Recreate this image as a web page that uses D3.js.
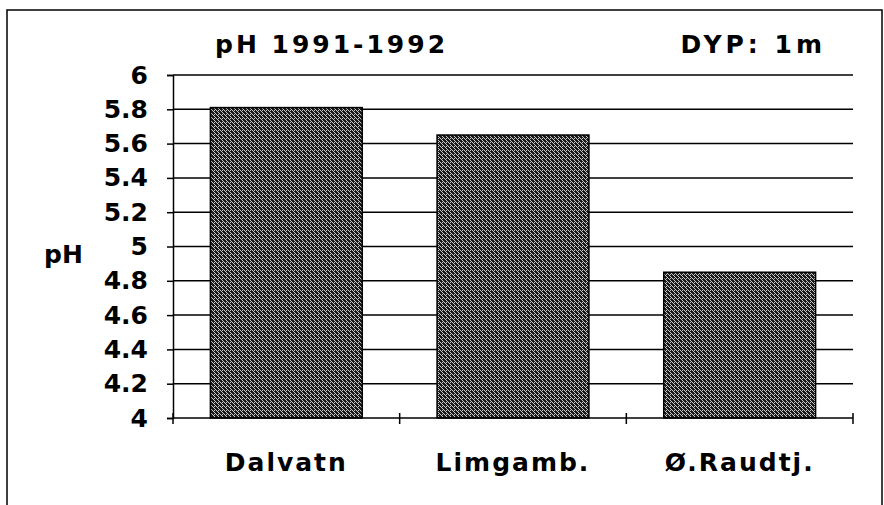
<!DOCTYPE html>
<html>
<head>
<meta charset="utf-8">
<script src="https://cdn.jsdelivr.net/npm/d3@7"></script>
<style>
  body { margin: 0; background: #fff; }
  svg text { font-family: "DejaVu Sans", sans-serif; font-weight: bold; fill: #000; }
</style>
</head>
<body>
<div id="chart"></div>
<script>
const width = 884;
const height = 505;

// data
const categories = ['Dalvatn', 'Limgamb.', 'Ø.Raudtj.'];
const phValues = [5.81, 5.65, 4.85];
const yTicks = [4, 4.2, 4.4, 4.6, 4.8, 5, 5.2, 5.4, 5.6, 5.8, 6];

const margin = { left: 173, right: 31, top: 75, bottom: 87 };

const svg = d3.select('#chart')
  .append('svg')
  .attr('width', width)
  .attr('height', height);

// hatch pattern for the bars
const defs = svg.append('defs');
const pat = defs.append('pattern')
  .attr('id', 'hatch')
  .attr('width', 4)
  .attr('height', 4)
  .attr('patternUnits', 'userSpaceOnUse');
pat.append('rect').attr('width', 4).attr('height', 4).attr('fill', '#1a1a1a');
pat.append('path')
  .attr('d', 'M0,3 L1,2 M2,1 L3,0 M1,4 L4,1')
  .attr('stroke', '#ddd')
  .attr('stroke-width', 0.9);

// outer frame
svg.append('path')
  .attr('d', 'M7,505 L7,10 L882,10 L882,505')
  .attr('fill', 'none')
  .attr('stroke', '#000')
  .attr('stroke-width', 1.5);

const x = d3.scaleBand()
  .domain(categories)
  .range([margin.left, width - margin.right])
  .paddingInner(0.33)
  .paddingOuter(0.165);

const y = d3.scaleLinear()
  .domain([4, 6])
  .range([height - margin.bottom, margin.top]);

// gridlines
svg.append('g')
  .selectAll('line')
  .data(yTicks.slice(1))
  .join('line')
  .attr('x1', margin.left)
  .attr('x2', width - margin.right)
  .attr('y1', d => y(d))
  .attr('y2', d => y(d))
  .attr('stroke', '#000')
  .attr('stroke-width', 1.5);

// bars
svg.append('g')
  .selectAll('rect')
  .data(phValues)
  .join('rect')
  .attr('x', (d, i) => x(categories[i]))
  .attr('width', x.bandwidth())
  .attr('y', d => y(d))
  .attr('height', d => y(4) - y(d))
  .attr('fill', 'url(#hatch)')
  .attr('stroke', '#000')
  .attr('stroke-width', 1.5);

// y axis
const yAxis = svg.append('g')
  .attr('transform', `translate(${margin.left},0)`)
  .call(d3.axisLeft(y).tickValues(yTicks).tickSize(6).tickPadding(19)
    .tickFormat(d3.format('~g')));
yAxis.select('.domain').attr('stroke-width', 1.5);
yAxis.selectAll('.tick line').attr('stroke-width', 1.5);
yAxis.selectAll('.tick text')
  .style('font-size', '25px')
  .style('font-family', '"DejaVu Sans", sans-serif')
  .style('font-weight', 'bold');

// x axis (ticks at category boundaries)
const step = x.step();
const boundaries = d3.range(categories.length + 1).map(i => margin.left + i * step);
svg.append('line')
  .attr('x1', margin.left).attr('x2', width - margin.right)
  .attr('y1', y(4)).attr('y2', y(4))
  .attr('stroke', '#000').attr('stroke-width', 1.5);
svg.append('g')
  .selectAll('line')
  .data(boundaries)
  .join('line')
  .attr('x1', d => d).attr('x2', d => d)
  .attr('y1', y(4) - 5).attr('y2', y(4) + 6)
  .attr('stroke', '#000').attr('stroke-width', 1.5);

svg.append('g')
  .selectAll('text')
  .data(categories)
  .join('text')
  .attr('x', d => x(d) + x.bandwidth() / 2)
  .attr('y', 471)
  .attr('text-anchor', 'middle')
  .style('font-size', '25px')
  .style('letter-spacing', '2px')
  .text(d => d);

// titles
svg.append('text')
  .attr('x', 215).attr('y', 53)
  .style('font-size', '25px')
  .style('letter-spacing', '3px')
  .text('pH 1991-1992');
svg.append('text')
  .attr('x', 826).attr('y', 53)
  .attr('text-anchor', 'end')
  .style('font-size', '25px')
  .style('letter-spacing', '4px')
  .text('DYP: 1m');
svg.append('text')
  .attr('x', 44).attr('y', 263)
  .style('font-size', '25px')
  .text('pH');
</script>
</body>
</html>
